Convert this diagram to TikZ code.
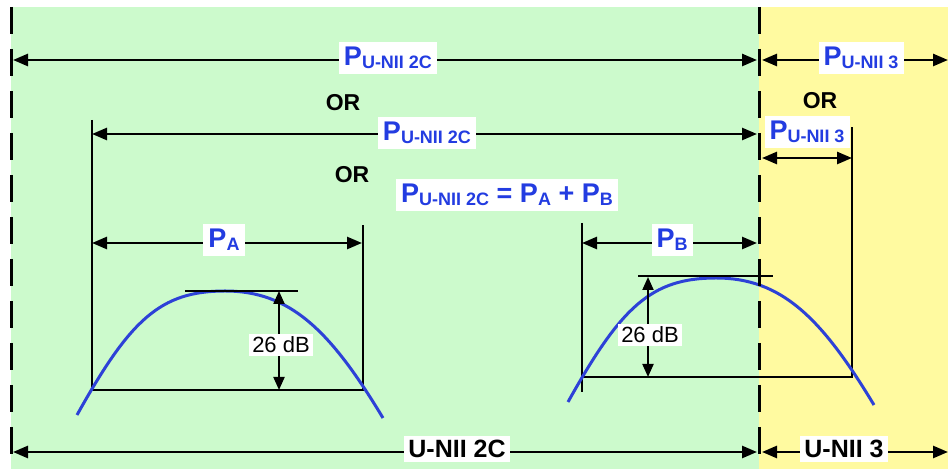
\documentclass[tikz,border=0pt]{standalone}
\usepackage{fontspec}
\setmainfont{Liberation Sans}
\usetikzlibrary{arrows.meta,positioning}
\definecolor{bandgreen}{RGB}{204,250,204}
\definecolor{bandyellow}{RGB}{255,250,160}
\definecolor{lblue}{RGB}{35,60,225}
\definecolor{cblue}{RGB}{45,65,215}
\newcommand{\Psub}[1]{P\raisebox{-1.3pt}{\fontsize{9}{10}\selectfont #1}}
\tikzset{
	x=0.5pt, y=-0.5pt,
	>={Triangle[length=7.5pt,width=6pt]},
	dim/.style={<->, line width=1.3pt},
	small dim/.style={<->, line width=1pt, >={Triangle[length=6.5pt,width=5.5pt]}},
	guide/.style={line width=0.7pt},
	edge line/.style={line width=1.5pt, dash pattern=on 13.5pt off 7.5pt},
	plab/.style={fill=white, inner sep=2.5pt, text=lblue, font=\fontsize{13.5}{15}\selectfont\bfseries},
	orlab/.style={font=\fontsize{11.5}{13}\selectfont\bfseries},
	dblab/.style={fill=white, inner sep=1.5pt, font=\fontsize{11}{12}\selectfont},
	blab/.style={fill=white, inner sep=2pt, font=\fontsize{12.5}{14}\selectfont\bfseries},
	mask/.style={line width=1.5pt, cblue},
}
\begin{document}
\begin{tikzpicture}
	\useasboundingbox (0,0) rectangle (948,469);
	% bands
	\fill[bandgreen] (11,7) rectangle (759,469);
	\fill[bandyellow] (759,7) rectangle (948,469);

	% end points of the arrows
	\coordinate (l1) at (13,60);  \coordinate (m1) at (757,60);
	\coordinate (r1) at (762,60); \coordinate (e1) at (948,60);
	\coordinate (l2) at (92,134); \coordinate (m2) at (757,134);
	\coordinate (r2) at (762,158); \coordinate (e2) at (852,158);
	\coordinate (la) at (92,243); \coordinate (ra) at (362,243);
	\coordinate (lb) at (582,243); \coordinate (rb) at (757,243);
	\coordinate (l4) at (13,452); \coordinate (m4) at (757,452);
	\coordinate (r4) at (762,452); \coordinate (e4) at (948,452);

	% guides
	\coordinate (aL) at (92,390);  \coordinate (aR) at (363,390);
	\coordinate (bL) at (582,377); \coordinate (bR) at (852,377);
	\coordinate (aLt) at (92,120); \coordinate (aRt) at (363,225);
	\coordinate (bLt) at (582,223); \coordinate (bLb) at (582,392);
	\coordinate (bRt) at (852,127);
	\draw[guide] (aLt) -- (aL) -- (aR) -- (aRt);
	\draw[guide] (bLt) -- (bLb);
	\draw[guide] (bL) -- (bR) -- (bRt);

	% spectra
	\draw[mask] (77,415) .. controls (130,320) and (160,291) .. (225,291)
		.. controls (290,291) and (330,330) .. (383,418);
	\draw[mask, shift={(491,-13)}] (77,415) .. controls (130,320) and (160,291) .. (225,291)
		.. controls (290,291) and (330,330) .. (383,418);

	% 26 dB
	\coordinate (ta1) at (185,291); \coordinate (ta2) at (298,291);
	\coordinate (tb1) at (638,276); \coordinate (tb2) at (773,276);
	\draw[line width=1pt] (ta1) -- (ta2);
	\draw[line width=1pt] (tb1) -- (tb2);
	\coordinate (da1) at (279,291); \coordinate (da2) at (279,390);
	\coordinate (db1) at (648,277); \coordinate (db2) at (648,377);
	\draw[small dim] (da1) -- (da2);
	\draw[small dim] (db1) -- (db2);
	\node[dblab] (dba) at (281,345) {26 dB};
	\node[dblab] (dbb) at (650,335) {26 dB};

	% power arrows
	\draw[dim] (l1) -- (m1);
	\draw[dim] (r1) -- (e1);
	\draw[dim] (l2) -- (m2);
	\draw[dim] (r2) -- (e2);
	\draw[dim] (la) -- (ra);
	\draw[dim] (lb) -- (rb);
	\draw[dim] (l4) -- (m4);
	\draw[dim] (r4) -- (e4);

	\node[plab] (p2c) at (388,58) {\Psub{U-NII 2C}};
	\node[plab] (p3) at (861,58) {\Psub{U-NII 3}};
	\node[orlab] (or1) at (343,103) {OR};
	\node[orlab] (or2) at (820,101) {OR};
	\node[plab] (p2cb) at (427,133) {\Psub{U-NII 2C}};
	\node[plab] (p3b) at (807,132) {\Psub{U-NII 3}};
	\node[orlab] (or3) at (352,175) {OR};
	\node[plab] (sum) at (507,195) {\Psub{U-NII 2C} = \Psub{A} + \Psub{B}};
	\node[plab] (pa) at (224,240) {\Psub{A}};
	\node[plab] (pb) at (672,240) {\Psub{B}};
	\node[blab] (u2c) at (457,449) {U-NII 2C};
	\node[blab] (u3) at (844,449) {U-NII 3};

	% band edges
	\draw[edge line] (11,7) -- (11,469);
	\draw[edge line] (759,7) -- (759,469);
\end{tikzpicture}
\end{document}
